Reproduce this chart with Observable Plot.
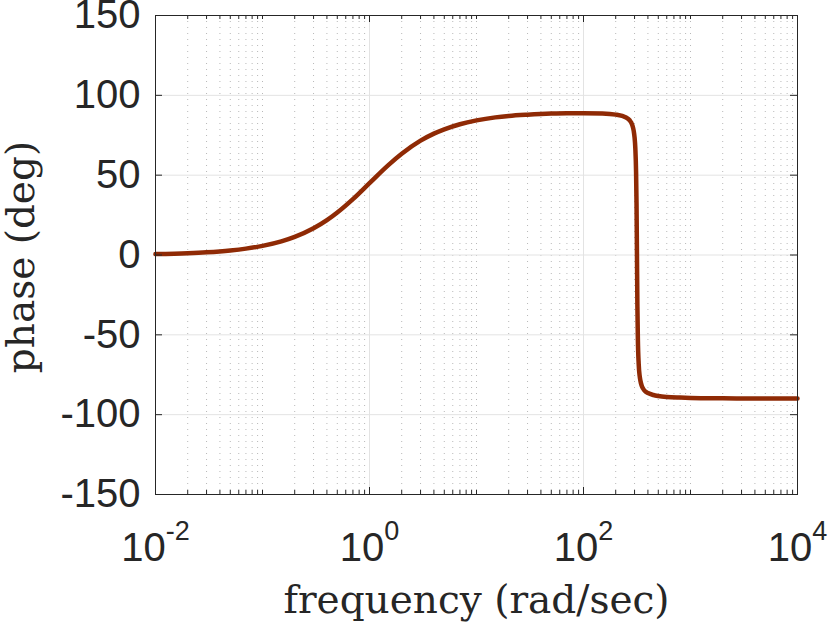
<!DOCTYPE html>
<html><head><meta charset="utf-8">
<script src="https://cdn.jsdelivr.net/npm/d3@7"></script>
<script src="https://cdn.jsdelivr.net/npm/@observablehq/plot@0.6"></script>
<style>body{margin:0;background:#fff} svg{display:block}</style>
</head><body><div id="chart"></div>
<script>
const freq = [0.01, 0.02, 0.03, 0.05, 0.07, 0.1, 0.15, 0.2, 0.3, 0.4, 0.5, 0.7, 1, 1.5, 2, 3, 4, 5, 7, 10, 15, 20, 30, 50, 70, 100, 150, 200, 250, 270, 280, 290, 295, 300, 305, 310, 313, 316, 319, 322, 328, 335, 340, 350, 360, 380, 400, 450, 500, 600, 800, 1000, 2000, 5000, 10000];
const phase = [0.57, 1.15, 1.72, 2.86, 4.0, 5.7, 8.5, 11.3, 16.7, 21.8, 26.6, 35.0, 45.0, 56.3, 63.4, 71.6, 76.0, 78.7, 81.9, 84.3, 86.2, 87.1, 87.9, 88.6, 88.8, 88.8, 88.6, 87.9, 86.1, 84.4, 82.8, 79.9, 77.5, 73.7, 66.9, 51.8, 32.3, -0.2, -32.4, -51.7, -68.3, -75.8, -78.6, -81.9, -83.6, -85.6, -86.5, -87.7, -88.3, -88.9, -89.3, -89.5, -89.75, -89.9, -89.95];
const yTicks = [-150, -100, -50, 0, 50, 100, 150];
const xMajor = [0.01, 1, 100, 10000];
const xTickLabels = ["-2", "0", "2", "4"];
const decades = [0.01, 0.1, 1, 10, 100, 1000];
const multipliers = [1, 2, 3, 4, 5, 6, 7, 8, 9];
const xLabel = "frequency (rad/sec)";
const yLabel = "phase (deg)";

const W = 830, H = 626, mL = 155, mR = 33, mT = 15, mB = 132;
const pw = W - mL - mR, ph = H - mT - mB;
const axisColor = "#262626";

const xAll = decades.flatMap(d => multipliers.map(m => +(m * d).toPrecision(6)));
const xMinor = xAll.filter(v => !xMajor.includes(v));
const data = freq.map((f, i) => ({f, p: phase[i]}));
const expOf = d => xTickLabels[xMajor.indexOf(d)];

const plot = Plot.plot({
  width: W, height: H,
  marginLeft: mL, marginRight: mR, marginTop: mT, marginBottom: mB,
  x: {type: "log", domain: [0.01, 10000]},
  y: {domain: [-150, 150]},
  marks: [
    Plot.ruleX(xMinor, {x: d => d, stroke: "#b8b8b8", strokeWidth: 1, strokeDasharray: "1,5"}),
    Plot.ruleX([1, 100], {x: d => d, stroke: "#e3e3e3", strokeWidth: 1}),
    Plot.ruleY([-100, -50, 0, 50, 100], {y: d => d, stroke: "#e3e3e3", strokeWidth: 1}),
    Plot.line(data, {x: "f", y: "p", stroke: "#8f2a05", strokeWidth: 4.5, curve: "monotone-x"}),
    Plot.tickY(yTicks, {y: d => d, stroke: axisColor, insetRight: pw - 7}),
    Plot.tickY(yTicks, {y: d => d, stroke: axisColor, insetLeft: pw - 7}),
    Plot.tickX(xMajor, {x: d => d, stroke: axisColor, insetTop: ph - 7}),
    Plot.tickX(xMajor, {x: d => d, stroke: axisColor, insetBottom: ph - 7}),
    Plot.tickX(xMinor, {x: d => d, stroke: axisColor, insetTop: ph - 4}),
    Plot.tickX(xMinor, {x: d => d, stroke: axisColor, insetBottom: ph - 4}),
    Plot.frame({stroke: axisColor, strokeWidth: 1}),
    Plot.axisY(yTicks, {anchor: "left", tickSize: 0, tickPadding: 15, tickFormat: d => String(d), fontSize: 40, fontFamily: "Liberation Sans, Arial, sans-serif", fill: axisColor, label: null}),
    Plot.axisX(xMajor, {anchor: "bottom", tickSize: 0, tickPadding: 38, tickFormat: d => "10^" + expOf(d), fontSize: 40, fontFamily: "Liberation Sans, Arial, sans-serif", fill: axisColor, label: null}),
    Plot.text([xLabel], {frameAnchor: "bottom", text: d => d, dy: 118, lineAnchor: "bottom", textAnchor: "middle", fontSize: 39, fontFamily: "DejaVu Serif, serif", fill: axisColor}),
    Plot.text([yLabel], {frameAnchor: "left", text: d => d, dx: -122, dy: 2, rotate: -90, lineAnchor: "bottom", textAnchor: "middle", fontSize: 39, fontFamily: "DejaVu Serif, serif", fill: axisColor})
  ]
});

d3.select(plot).selectAll('g[aria-label="x-axis tick label"] text').each(function () {
  const parts = this.textContent.split("^");
  this.textContent = "";
  const t = d3.select(this);
  t.append("tspan").text(parts[0]);
  t.append("tspan").attr("dy", -21).attr("font-size", 27).text(parts[1]);
});

document.getElementById("chart").appendChild(plot);
</script>
</body></html>
